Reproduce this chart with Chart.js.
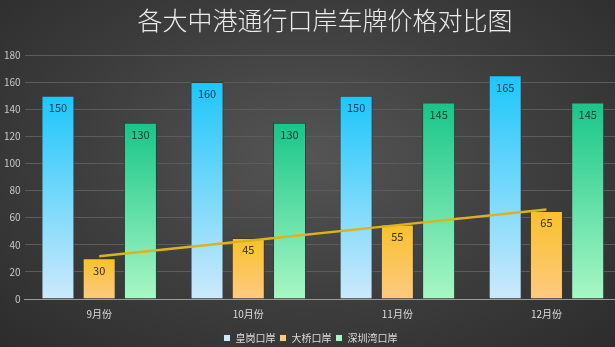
<!DOCTYPE html>
<html>
<head>
<meta charset="utf-8">
<script src="https://cdn.jsdelivr.net/npm/chart.js@4/dist/chart.umd.min.js"></script>
<style>
  html, body { margin: 0; padding: 0; width: 615px; height: 347px; overflow: hidden;
    background: radial-gradient(ellipse at 50% 45%, #555555 0%, #3d3d3d 55%, #2c2c2c 100%); }
  #wrap { position: relative; width: 644px; height: 355px; }
</style>
</head>
<body>
<div id="wrap"><canvas id="c"></canvas></div>
<script>
// --- DATA ---
const chartTitle = '各大中港通行口岸车牌价格对比图';
const months = ['9月份', '10月份', '11月份', '12月份'];
const huanggang = [150, 160, 150, 165];   // 皇岗口岸
const daqiao = [30, 45, 55, 65];          // 大桥口岸
const shenzhenwan = [130, 130, 145, 145]; // 深圳湾口岸
const daqiaoTrend = [31.5, 43, 54.5, 66]; // 大桥口岸 trend line

// --- GRADIENT PER BAR ---
function barGradient(top, bottom) {
  return (c) => {
    const chart = c.chart;
    if (!chart.chartArea || c.type !== 'data') return top;
    const y = chart.scales.y;
    const y0 = y.getPixelForValue(c.raw);
    const y1 = y.getPixelForValue(0);
    const g = chart.ctx.createLinearGradient(0, y0, 0, y1);
    g.addColorStop(0, top);
    g.addColorStop(1, bottom);
    return g;
  };
}

// --- TITLE + VALUE LABELS ---
const extras = {
  id: 'extras',
  afterDatasetsDraw(chart) {
    const ctx = chart.ctx;
    ctx.save();
    ctx.font = '11px "Noto Sans CJK SC", "DejaVu Sans", sans-serif';
    ctx.textAlign = 'center';
    ctx.textBaseline = 'middle';
    chart.data.datasets.forEach((ds, i) => {
      if (ds.type === 'line') return;
      chart.getDatasetMeta(i).data.forEach((bar, j) => {
        ctx.fillStyle = ds.labelColor;
        ctx.fillText(ds.data[j], bar.x, bar.y + 12);
      });
    });
    // title, centred a little right of the plot like the original
    ctx.font = '300 25px "Noto Sans CJK SC", sans-serif';
    ctx.fillStyle = '#ececec';
    ctx.fillText(chartTitle, 325, 20);
    ctx.restore();
  }
};

const ctx = document.getElementById('c').getContext('2d');
new Chart(ctx, {
  data: {
    labels: months,
    datasets: [
      { type: 'line', label: 'trend', data: daqiaoTrend, borderColor: '#d9b41e', borderWidth: 2.5,
        pointRadius: 0, fill: false, order: 0 },
      { type: 'bar', label: '皇岗口岸', data: huanggang, labelColor: '#173a5c',
        backgroundColor: barGradient('#1cc6fb', '#cde9fb'), borderColor: '#2b3b44', borderWidth: 1, order: 1 },
      { type: 'bar', label: '大桥口岸', data: daqiao, labelColor: '#3d2c05',
        backgroundColor: barGradient('#f8c12a', '#fdca82'), borderColor: '#403a2c', borderWidth: 1, order: 1 },
      { type: 'bar', label: '深圳湾口岸', data: shenzhenwan, labelColor: '#0f3d2c',
        backgroundColor: barGradient('#18c58a', '#a9f7c4'), borderColor: '#2b4038', borderWidth: 1, order: 1 }
    ]
  },
  options: {
    responsive: true,
    maintainAspectRatio: false,
    animation: false,
    layout: { padding: { left: 0, right: 23, top: 55, bottom: 2 } },
    datasets: { bar: { categoryPercentage: 0.83, barPercentage: 0.8 } },
    plugins: {
      title: { display: false },
      legend: {
        position: 'bottom',
        labels: {
          color: '#dddddd', boxWidth: 7, boxHeight: 7, padding: 4,
          font: { size: 10, family: '"Noto Sans CJK SC", sans-serif' },
          filter: (item) => item.text !== 'trend'
        }
      },
      tooltip: { enabled: false }
    },
    scales: {
      x: {
        grid: { display: false },
        border: { color: '#9a9a9a', width: 1 },
        ticks: { color: '#dddddd', font: { size: 10, family: '"Noto Sans CJK SC", sans-serif' }, padding: 1 },
        afterFit: (scale) => { scale.height += 8; }
      },
      y: {
        min: 0, max: 180,
        ticks: { stepSize: 20, color: '#c8c8c8', font: { size: 10, family: '"Noto Sans CJK SC", sans-serif' }, padding: 4 },
        grid: { color: '#5c5c5c', drawTicks: false },
        border: { display: false }
      }
    }
  },
  plugins: [extras]
});
</script>
</body>
</html>
